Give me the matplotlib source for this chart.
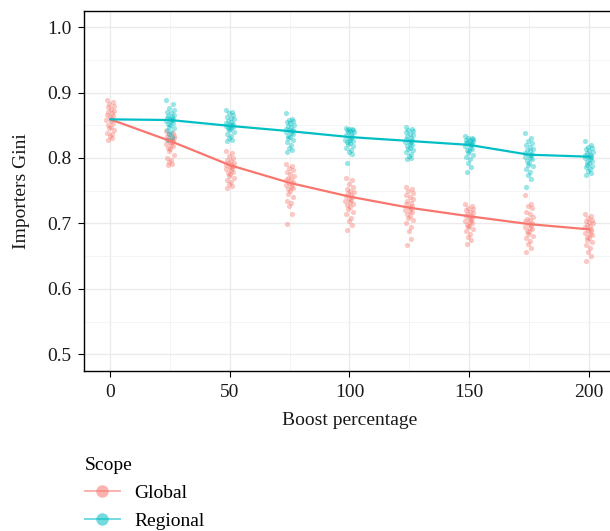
import matplotlib
matplotlib.use("Agg")
import matplotlib.pyplot as plt
from matplotlib.lines import Line2D
import numpy as np

plt.rcParams['font.family'] = ['Liberation Serif', 'DejaVu Serif']

# Boost levels and mean Gini per scope
boost = [0, 25, 50, 75, 100, 125, 150, 175, 200]
global_mean = [0.859, 0.826, 0.789, 0.762, 0.741, 0.724, 0.711, 0.699, 0.691]
regional_mean = [0.859, 0.858, 0.849, 0.841, 0.832, 0.826, 0.820, 0.805, 0.802]

# individual runs
global_runs = {
    0: [0.889, 0.885, 0.882, 0.880, 0.878, 0.875, 0.872, 0.870, 0.868, 0.866, 0.864, 0.862, 0.860,
        0.858, 0.856, 0.853, 0.850, 0.848, 0.846, 0.842, 0.838, 0.836, 0.833, 0.830, 0.827],
    25: [0.841, 0.838, 0.836, 0.834, 0.833, 0.831, 0.830, 0.829, 0.828, 0.827, 0.826, 0.825, 0.824,
         0.822, 0.820, 0.818, 0.816, 0.813, 0.810, 0.805, 0.800, 0.797, 0.794, 0.791, 0.789],
    50: [0.810, 0.807, 0.803, 0.800, 0.797, 0.795, 0.793, 0.792, 0.790, 0.789, 0.788, 0.786, 0.785,
         0.783, 0.781, 0.779, 0.777, 0.775, 0.773, 0.770, 0.767, 0.764, 0.760, 0.757, 0.754],
    75: [0.791, 0.788, 0.785, 0.781, 0.778, 0.775, 0.772, 0.770, 0.768, 0.766, 0.764, 0.762, 0.760,
         0.758, 0.756, 0.754, 0.752, 0.749, 0.745, 0.740, 0.735, 0.731, 0.726, 0.715, 0.699],
    100: [0.770, 0.766, 0.760, 0.756, 0.753, 0.750, 0.748, 0.746, 0.744, 0.742, 0.740, 0.738, 0.736,
          0.734, 0.732, 0.730, 0.728, 0.725, 0.722, 0.718, 0.714, 0.709, 0.703, 0.697, 0.690],
    125: [0.756, 0.753, 0.749, 0.746, 0.743, 0.740, 0.737, 0.734, 0.731, 0.729, 0.727, 0.725, 0.723,
          0.721, 0.719, 0.717, 0.714, 0.711, 0.708, 0.705, 0.700, 0.695, 0.688, 0.676, 0.667],
    150: [0.730, 0.727, 0.724, 0.722, 0.720, 0.718, 0.716, 0.714, 0.712, 0.711, 0.709, 0.708, 0.706,
          0.704, 0.702, 0.700, 0.698, 0.696, 0.694, 0.691, 0.688, 0.684, 0.680, 0.674, 0.668],
    175: [0.743, 0.730, 0.727, 0.724, 0.718, 0.714, 0.710, 0.707, 0.705, 0.703, 0.701, 0.699, 0.697,
          0.695, 0.693, 0.691, 0.689, 0.687, 0.684, 0.681, 0.677, 0.673, 0.669, 0.663, 0.656],
    200: [0.715, 0.712, 0.709, 0.706, 0.704, 0.702, 0.700, 0.698, 0.696, 0.694, 0.692, 0.690, 0.688,
          0.686, 0.684, 0.682, 0.680, 0.677, 0.674, 0.671, 0.667, 0.662, 0.657, 0.650, 0.643],
}
regional_runs = {
    25: [0.889, 0.882, 0.877, 0.873, 0.870, 0.868, 0.866, 0.864, 0.862, 0.861, 0.860, 0.859, 0.858,
         0.857, 0.856, 0.854, 0.852, 0.850, 0.848, 0.846, 0.843, 0.840, 0.837, 0.832, 0.827],
    50: [0.874, 0.871, 0.868, 0.866, 0.863, 0.861, 0.859, 0.857, 0.855, 0.853, 0.852, 0.851, 0.850,
         0.849, 0.848, 0.847, 0.846, 0.845, 0.843, 0.840, 0.837, 0.834, 0.831, 0.828, 0.826],
    75: [0.869, 0.860, 0.858, 0.856, 0.855, 0.853, 0.851, 0.849, 0.847, 0.845, 0.843, 0.842, 0.841,
         0.840, 0.838, 0.836, 0.834, 0.832, 0.830, 0.827, 0.824, 0.820, 0.816, 0.812, 0.809],
    100: [0.846, 0.845, 0.844, 0.843, 0.842, 0.841, 0.840, 0.839, 0.837, 0.835, 0.833, 0.831, 0.830,
          0.828, 0.827, 0.826, 0.825, 0.823, 0.821, 0.819, 0.816, 0.812, 0.809, 0.806, 0.792],
    125: [0.847, 0.845, 0.843, 0.841, 0.839, 0.837, 0.835, 0.833, 0.831, 0.829, 0.827, 0.826, 0.825,
          0.824, 0.822, 0.820, 0.818, 0.816, 0.814, 0.812, 0.809, 0.806, 0.803, 0.800, 0.798],
    150: [0.833, 0.831, 0.830, 0.829, 0.828, 0.827, 0.826, 0.825, 0.824, 0.823, 0.822, 0.821, 0.820,
          0.818, 0.816, 0.814, 0.812, 0.810, 0.808, 0.805, 0.802, 0.798, 0.792, 0.786, 0.778],
    175: [0.838, 0.830, 0.826, 0.823, 0.820, 0.817, 0.814, 0.812, 0.810, 0.808, 0.806, 0.805, 0.804,
          0.802, 0.800, 0.798, 0.796, 0.793, 0.790, 0.787, 0.783, 0.779, 0.774, 0.768, 0.756],
    200: [0.826, 0.820, 0.817, 0.815, 0.813, 0.811, 0.809, 0.807, 0.805, 0.804, 0.803, 0.802, 0.801,
          0.800, 0.798, 0.796, 0.794, 0.792, 0.790, 0.788, 0.786, 0.783, 0.780, 0.777, 0.774],
}

# fixed horizontal jitter pattern (boost units)
jitter = np.array([-1.2, 0.8, -0.3, 1.1, -0.9, 0.2, 1.3, -0.6, 0.5, -1.1, 0.9, -0.1, 0.6,
                   -1.3, 0.3, 1.0, -0.7, 0.1, -0.4, 1.2, -1.0, 0.4, -0.2, 0.7, -0.8]) * 1.3

c_glob = '#F8766D'
c_reg = '#00BFC4'
fs = 14

fig = plt.figure(figsize=(6.10, 5.31), dpi=100)
W, H = 610, 531
ax = fig.add_axes([84 / W, 1 - 370.7 / H, (615 - 84) / W, (370.7 - 10.7) / H])

for runs, col in [(global_runs, c_glob), (regional_runs, c_reg)]:
    for b, vals in runs.items():
        xs = b + jitter[:len(vals)]
        ax.scatter(xs, vals, s=14, color=col, alpha=0.4, linewidths=0, zorder=3)

ax.plot(boost, global_mean, color=c_glob, lw=1.6, zorder=4)
ax.plot(boost, regional_mean, color=c_reg, lw=1.6, zorder=5)

ax.set_xlim(-11, 211)
ax.set_ylim(0.475, 1.025)
ax.set_xticks([0, 50, 100, 150, 200])
ax.set_xticks([25, 75, 125, 175], minor=True)
ax.set_yticks([0.5, 0.6, 0.7, 0.8, 0.9, 1.0])
ax.set_yticks([0.55, 0.65, 0.75, 0.85, 0.95], minor=True)
ax.set_yticklabels(['0.5', '0.6', '0.7', '0.8', '0.9', '1.0'])

ax.grid(which='major', color='#ebebeb', lw=1.0, zorder=0)
ax.grid(which='minor', color='#f3f3f3', lw=0.6, zorder=0)
ax.set_axisbelow(True)

for side in ['left', 'top', 'bottom', 'right']:
    ax.spines[side].set_color('black')
    ax.spines[side].set_linewidth(1.0)

ax.tick_params(which='major', direction='out', length=4, width=0.8, color='black',
               labelsize=fs, pad=5, labelcolor='#1a1a1a')
ax.tick_params(which='minor', length=0)
ax.tick_params(axis='x', pad=5.5)

ax.set_xlabel('Boost percentage', fontsize=fs, labelpad=8, color='#1a1a1a')
ax.set_ylabel('Importers Gini', fontsize=fs, labelpad=12, color='#1a1a1a')

handles = [
    Line2D([0], [0], color=c_glob, lw=1.4, alpha=0.55, marker='o', markersize=9,
           markerfacecolor=c_glob, markeredgewidth=0),
    Line2D([0], [0], color=c_reg, lw=1.4, alpha=0.55, marker='o', markersize=9,
           markerfacecolor=c_reg, markeredgewidth=0),
]
leg = fig.legend(handles, ['Global', 'Regional'], title='Scope', loc='upper left',
                 bbox_to_anchor=(67 / W, 1 - 439 / H), frameon=False, fontsize=fs,
                 title_fontsize=fs, handlelength=1.8, handletextpad=0.78,
                 labelspacing=0.5, alignment='left')
leg._legend_box.sep = 8

fig.savefig('out.png', dpi=100)
